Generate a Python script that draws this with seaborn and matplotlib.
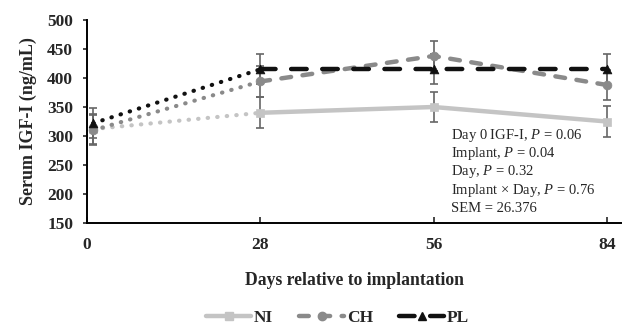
import numpy as np
import pandas as pd
import matplotlib
matplotlib.use("Agg")
import matplotlib.pyplot as plt
import seaborn as sns
from matplotlib.lines import Line2D

sns.set_style("white")
plt.rcParams['font.family'] = ['Liberation Serif', 'DejaVu Serif']
plt.rcParams['mathtext.fontset'] = 'custom'
plt.rcParams['mathtext.rm'] = 'Liberation Serif'
plt.rcParams['mathtext.it'] = 'Liberation Serif:italic'

# ---- data ----
days = [0, 28, 56, 84]
day_pos = [1, 28, 56, 84]          # day 0 drawn just right of the axis
ni = [312, 340, 350, 325]
ch = [310, 394, 438, 388]
pl = [322, 415, 415, 415]
ni_err = [26, 27, 26, 26]
ch_err = [26, 26, 26, 26]
pl_err = [26, 26, 26, 26]
series_names = ["NI", "CH", "PL"]
stats_lines = ["Day 0 IGF-I, $P$ = 0.06", "Implant, $P$ = 0.04", "Day, $P$ = 0.32",
               "Implant × Day, $P$ = 0.76", "SEM = 26.376"]

fig = plt.figure(figsize=(6.23, 3.28), dpi=100)
ax = fig.add_axes([87/623, 1-223/328, 1-87/623-0.003, (223-20)/328])

styles = {
    "NI": dict(color="#c4c4c4", marker="s", dashes=None),
    "CH": dict(color="#8a8a8a", marker="o", dashes=(2.2, 2.6)),
    "PL": dict(color="#111111", marker="^", dashes=(3.5, 3.5)),
}
vals = {"NI": ni, "CH": ch, "PL": pl}
errs = {"NI": ni_err, "CH": ch_err, "PL": pl_err}

for name in series_names:
    st = styles[name]
    y = vals[name]
    ax.errorbar(day_pos, y, yerr=errs[name], fmt='none', ecolor="#666666",
                elinewidth=1.2, capsize=3, capthick=1.2, zorder=2)
    sns.lineplot(x=day_pos[:2], y=y[:2], ax=ax, color=st["color"], lw=3,
                 linestyle=(0, (0.1, 2.2)), dash_capstyle='round', zorder=3)
    sns.lineplot(x=day_pos[1:], y=y[1:], ax=ax, color=st["color"], lw=3.2, zorder=4)
    l = ax.lines[-1]
    if st["dashes"] is not None:
        l.set_dashes(st["dashes"])
    l.set_dash_capstyle('round')
    sns.scatterplot(x=day_pos, y=y, ax=ax, color=st["color"], marker=st["marker"],
                    s=40, edgecolor=st["color"], zorder=5)

ax.set_xlim(0, 86.3)
ax.set_ylim(150, 500)
ax.set_xticks(days)
ax.set_xticklabels([str(d) for d in days], fontweight='bold', fontsize=12.5)
ax.set_yticks(np.arange(150, 501, 50))
ax.set_yticklabels([str(v) for v in range(150, 501, 50)], fontweight='bold', fontsize=12.5)
for s in ["top", "right"]:
    ax.spines[s].set_visible(False)
for s in ["left", "bottom"]:
    ax.spines[s].set_color("black")
    ax.spines[s].set_linewidth(1.4)
ax.tick_params(axis='y', direction='out', length=3, width=1.2, left=True, pad=7)
ax.tick_params(axis='x', direction='in', length=4, width=1.2, bottom=True, pad=10)
ax.set_ylabel("Serum IGF-I (ng/mL)", fontweight='bold', fontsize=13, labelpad=7)
ax.set_xlabel("Days relative to implantation", fontweight='bold', fontsize=12.7, labelpad=14)
ax.grid(False)

for i, t in enumerate(stats_lines):
    fig.text(451/623, 1-(135+i*18.5)/328, t, fontsize=10.5, va='center', ha='left')

handles = []
for name in series_names:
    st = styles[name]
    h = Line2D([0], [0], color=st["color"], lw=3.2, marker=st["marker"], markersize=6,
               markeredgecolor=st["color"], dash_capstyle='round')
    if st["dashes"] is not None:
        h.set_dashes(st["dashes"])
    handles.append(h)
leg = fig.legend(handles, series_names, loc='center', bbox_to_anchor=(0.542, 1-318/328),
                 ncol=3, frameon=False, handlelength=2.6, columnspacing=1.5, handletextpad=0.15,
                 borderpad=0.0, prop=dict(weight='bold', size=12.5))

fig.savefig("out.png", dpi=100)
